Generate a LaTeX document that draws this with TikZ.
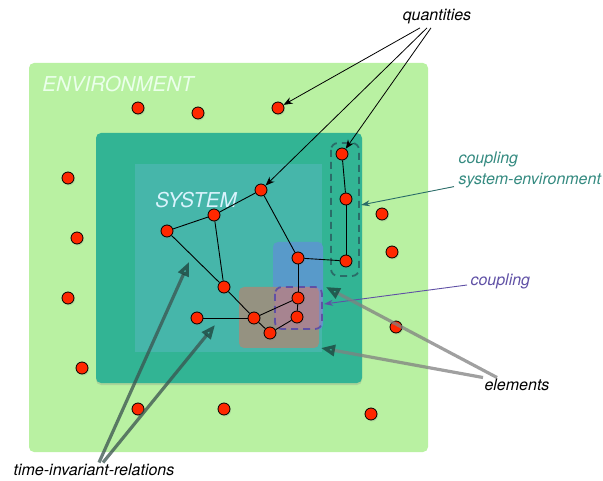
\documentclass[tikz,border=0pt]{standalone}
\usepackage{fontspec}
\setmainfont{TeX Gyre Heros}
\usetikzlibrary{arrows.meta,shadows}

\definecolor{envgreen}{RGB}{185,241,162}
\definecolor{sysouter}{RGB}{50,180,148}
\definecolor{sysinner}{RGB}{70,182,170}
\definecolor{blueish}{RGB}{88,154,202}
\definecolor{brownish}{RGB}{163,140,122}
\definecolor{pinkish}{RGB}{205,110,172}
\definecolor{cpurple}{RGB}{95,80,165}
\definecolor{cteal}{RGB}{42,108,104}
\definecolor{tealtext}{RGB}{52,138,128}
\definecolor{qred}{RGB}{255,40,0}
\definecolor{headdark}{RGB}{28,62,56}

\begin{document}
\begin{tikzpicture}[x=1pt,y=-1pt,
    quantity/.style={circle,draw=black,fill=qred,line width=0.8pt,inner sep=0pt,minimum size=12pt,
      drop shadow={shadow xshift=1pt,shadow yshift=-1.5pt,opacity=0.2}},
    relation/.style={draw=black,line width=0.9pt},
    pointer/.style={-{Stealth[length=9pt,width=7pt]},line width=0.8pt},
    heavy/.style={line width=3.2pt,draw opacity=0.75,-{Triangle[open,length=14pt,width=11pt,color=headdark]}},
    bigtag/.style={font=\itshape\fontsize{20.5}{24}\selectfont},
    tag/.style={font=\itshape\fontsize{16}{21}\selectfont},
    dashbox/.style={line width=1.8pt,dash pattern=on 7pt off 5pt,rounded corners=7pt}]
  \useasboundingbox (0,0) rectangle (603,481);

  % environment and system
  \fill[envgreen,rounded corners=5pt] (29,63) rectangle (428,452);
  \node[bigtag,text=white!92!green] (envtag) at (118,84) {ENVIRONMENT};
  \fill[sysouter,rounded corners=5pt,drop shadow={shadow xshift=0pt,shadow yshift=-2pt,opacity=0.25}] (96,133) rectangle (362,383);
  \fill[sysinner] (135,164) rectangle (322,352);
  \node[bigtag,text=white!85!cyan] (systag) at (196,200) {SYSTEM};

  % element boxes and couplings
  \fill[blueish,rounded corners=5pt] (273,242) rectangle (323,330);
  \fill[brownish,fill opacity=0.85,rounded corners=5pt] (239,287) rectangle (319,348);
  \filldraw[cpurple,dashbox,fill=pinkish,fill opacity=0.3] (275,287) rectangle (322,329);
  \draw[cteal,dashbox] (331,143) rectangle (359,276);

  % quantities in the system
  \node[quantity] (s1) at (342,154) {};
  \node[quantity] (s2) at (346,199) {};
  \node[quantity] (s3) at (346,261) {};
  \node[quantity] (s4) at (261,190) {};
  \node[quantity] (s5) at (214,215) {};
  \node[quantity] (s6) at (167,231) {};
  \node[quantity] (s7) at (298,258) {};
  \node[quantity] (s8) at (224,287) {};
  \node[quantity] (s9) at (298,298) {};
  \node[quantity] (s10) at (297,317) {};
  \node[quantity] (s11) at (254,318) {};
  \node[quantity] (s12) at (270,333) {};
  \node[quantity] (s13) at (197,318) {};

  % quantities in the environment
  \node[quantity] (e1) at (138,108) {};
  \node[quantity] (e2) at (198,113) {};
  \node[quantity] (e3) at (278,108) {};
  \node[quantity] (e4) at (68,178) {};
  \node[quantity] (e5) at (77,238) {};
  \node[quantity] (e6) at (68,298) {};
  \node[quantity] (e7) at (82,368) {};
  \node[quantity] (e8) at (138,409) {};
  \node[quantity] (e9) at (224,409) {};
  \node[quantity] (e10) at (371,414) {};
  \node[quantity] (e11) at (396,327) {};
  \node[quantity] (e12) at (392,252) {};
  \node[quantity] (e13) at (382,214) {};

  % relations
  \draw[relation] (s1) -- (s2);
  \draw[relation] (s2) -- (s3);
  \draw[relation] (s3) -- (s7);
  \draw[relation] (s7) -- (s4);
  \draw[relation] (s4) -- (s5);
  \draw[relation] (s5) -- (s6);
  \draw[relation] (s5) -- (s8);
  \draw[relation] (s6) -- (s8);
  \draw[relation] (s8) -- (s11);
  \draw[relation] (s7) -- (s9);
  \draw[relation] (s9) -- (s10);
  \draw[relation] (s10) -- (s12);
  \draw[relation] (s12) -- (s11);
  \draw[relation] (s11) -- (s9);
  \draw[relation] (s11) -- (s13);

  % labels
  \node[tag] (quant) at (437,17) {quantities};
  \node[tag,text=tealtext,align=left,anchor=west] (cse) at (455,170) {coupling\\system-environment};
  \node[tag,text=cpurple,anchor=west] (coup) at (467,281) {coupling};
  \node[tag] (elem) at (517,385) {elements};
  \node[tag] (tir) at (94,470) {time-invariant-relations};

  % pointers
  \draw[pointer] ([xshift=-17pt]quant.south) -- (e3);
  \draw[pointer] ([xshift=-10pt]quant.south) -- (s4);
  \draw[pointer] ([xshift=-6pt]quant.south) -- (s1);

  \coordinate (cseTip) at (361,205);
  \coordinate (coupTip) at (324,304);
  \draw[cteal,line width=0.9pt,-{Stealth[length=9pt,width=6pt]}] ([xshift=-1pt,yshift=5pt]cse.south west) -- (cseTip);
  \draw[cpurple,line width=0.9pt,-{Stealth[length=9pt,width=6pt]}] ([yshift=-4pt]coup.west) -- (coupTip);

  \coordinate (blueTip) at (326,287);
  \coordinate (brownTip) at (321,348);
  \coordinate (relA) at (189,262);
  \coordinate (relB) at (215,325);
  \draw[heavy,gray] ([xshift=-20pt,yshift=-2pt]elem.north) -- (blueTip);
  \draw[heavy,gray] ([xshift=-34pt,yshift=-2pt]elem.north) -- (brownTip);
  \draw[heavy,headdark!70!gray] ([xshift=5pt,yshift=-2pt]tir.north) -- (relA);
  \draw[heavy,headdark!70!gray] ([xshift=9pt,yshift=-2pt]tir.north) -- (relB);
\end{tikzpicture}
\end{document}
